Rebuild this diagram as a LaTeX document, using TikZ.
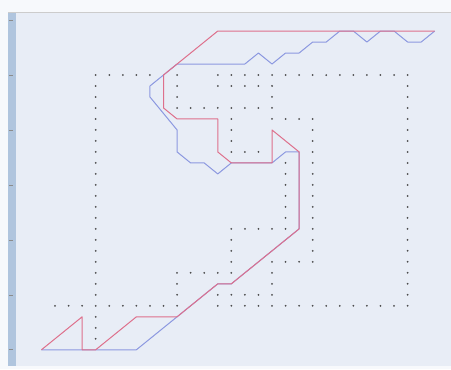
\documentclass[tikz,border=0pt]{standalone}
\definecolor{pathred}{RGB}{222,112,140}
\definecolor{pathblue}{RGB}{140,152,224}
\definecolor{plotbg}{RGB}{232,237,246}
\definecolor{pagebg}{RGB}{247,249,252}
\definecolor{axisstrip}{RGB}{176,197,222}
\begin{document}
\begin{tikzpicture}[x=13.56pt, y=10.99pt,
  wall/.style={fill=black!70},
  redpath/.style={draw=pathred, line width=1pt, line join=round},
  bluepath/.style={draw=pathblue, line width=1pt, line join=round},
  axistick/.style={draw=black!45, line width=0.6pt},
]
% frame of the plot
\fill[pagebg] (-3.058,-1.752) rectangle (30.20,31.825);
\useasboundingbox (-3.058,-1.752) rectangle (30.20,31.825);
\fill[plotbg] (-2.467,-1.479) rectangle (30.20,30.73);
\fill[axisstrip] (-2.467,-1.479) rectangle (-1.877,30.73);
\draw[black!20, line width=0.8pt] (-2.467,30.73) -- (30.20,30.73);
\foreach \t in {0,5,...,30}
  \draw[axistick] (-2.40,\t) -- (-2.10,\t);

% obstacles
\foreach \y in {1,...,25} \fill[wall] (4,\y) circle (1pt);
\foreach \x in {5,...,8,10,13,14,...,27} \fill[wall] (\x,25) circle (1pt);
\foreach \y in {4,...,24} \fill[wall] (27,\y) circle (1pt);
\foreach \x in {1,2,3,5,6,...,10,13,14,...,26} \fill[wall] (\x,4) circle (1pt);
\foreach \y in {22,23,24} \fill[wall] (10,\y) circle (1pt);
\foreach \x in {13,...,17} \fill[wall] (\x,24) circle (1pt);
\foreach \x in {11,...,17} \fill[wall] (\x,22) circle (1pt);
\foreach \y in {21,23} \fill[wall] (17,\y) circle (1pt);
\foreach \x in {18,19,20} \fill[wall] (\x,21) circle (1pt);
\foreach \y in {8,...,20} \fill[wall] (20,\y) circle (1pt);
\foreach \x in {17,18,19} \fill[wall] (\x,8) circle (1pt);
\foreach \y in {5,6,7} \fill[wall] (17,\y) circle (1pt);
\foreach \x in {13,...,16} \fill[wall] (\x,5) circle (1pt);
\foreach \y in {18,...,21} \fill[wall] (14,\y) circle (1pt);
\foreach \x in {15,16} \fill[wall] (\x,18) circle (1pt);
\foreach \y in {11,...,17} \fill[wall] (18,\y) circle (1pt);
\foreach \x in {14,...,17} \fill[wall] (\x,11) circle (1pt);
\foreach \y in {7,...,10} \fill[wall] (14,\y) circle (1pt);
\foreach \x in {10,...,13} \fill[wall] (\x,7) circle (1pt);
\foreach \y in {5,6} \fill[wall] (10,\y) circle (1pt);

% paths
\coordinate (start) at (0,0);
\coordinate (goal) at (29,29);
\draw[bluepath] (start) -- (7,0) -- (10,3) -- (13,6) -- (14,6) -- (19,11)
  -- (19,18) -- (18,18) -- (17,17) -- (14,17) -- (13,16) -- (12,17)
  -- (11,17) -- (10,18) -- (10,20) -- (8,23) -- (8,24) -- (10,26)
  -- (15,26) -- (16,27) -- (17,26) -- (18,27) -- (19,27) -- (20,28)
  -- (21,28) -- (22,29) -- (23,29) -- (24,28) -- (25,29) -- (26,29)
  -- (27,28) -- (28,28) -- (goal);
\draw[redpath] (start) -- (3,3) -- (3,0) -- (4,0) -- (7,3) -- (10,3)
  -- (13,6) -- (14,6) -- (19,11) -- (19,18) -- (17,20) -- (17,17)
  -- (14,17) -- (13,18) -- (13,21) -- (10,21) -- (9,22) -- (9,25)
  -- (13,29) -- (goal);
\end{tikzpicture}
\end{document}
